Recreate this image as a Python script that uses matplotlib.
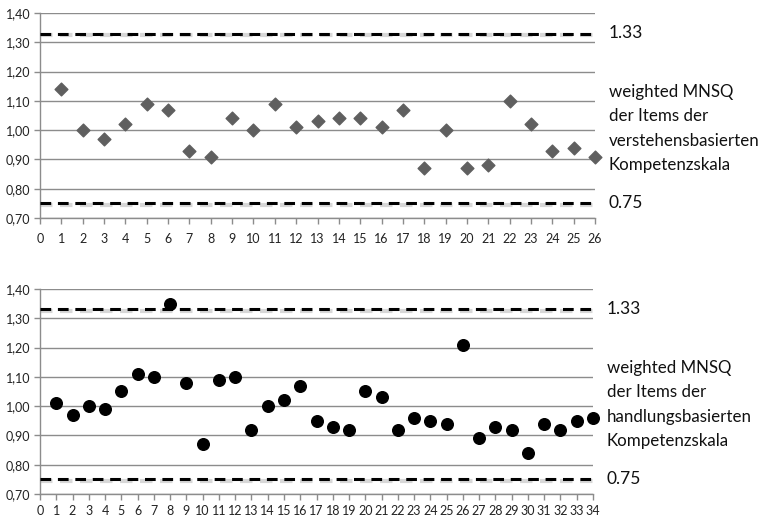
import matplotlib
matplotlib.use("Agg")
import matplotlib.pyplot as plt
import matplotlib.ticker as mticker

plt.rcParams['font.family'] = ['Lato', 'DejaVu Sans']

items_top = list(range(1, 27))
mnsq_top = [1.14, 1.00, 0.97, 1.02, 1.09, 1.07, 0.93, 0.91, 1.04, 1.00,
            1.09, 1.01, 1.03, 1.04, 1.04, 1.01, 1.07, 0.87, 1.00, 0.87,
            0.88, 1.10, 1.02, 0.93, 0.94, 0.91]

items_bot = list(range(1, 35))
mnsq_bot = [1.01, 0.97, 1.00, 0.99, 1.05, 1.11, 1.10, 1.35, 1.08, 0.87,
            1.09, 1.10, 0.92, 1.00, 1.02, 1.07, 0.95, 0.93, 0.92, 1.05,
            1.03, 0.92, 0.96, 0.95, 0.94, 1.21, 0.89, 0.93, 0.92, 0.84,
            0.94, 0.92, 0.95, 0.96]

upper_limit = 1.33
lower_limit = 0.75
upper_label = "1.33"
lower_label = "0.75"
label_top = "weighted MNSQ\nder Items der\nverstehensbasierten\nKompetenzskala"
label_bot = "weighted MNSQ\nder Items der\nhandlungsbasierten\nKompetenzskala"

fig = plt.figure(figsize=(7.65, 5.2), dpi=100)
ax1 = fig.add_axes([40/765, 1-218/520, 555/765, 205/520])
ax2 = fig.add_axes([40/765, 1-494/520, 553/765, 205/520])

def style(ax, n, pad):
    ax.set_xlim(0, n)
    ax.set_ylim(0.70, 1.40)
    ax.set_yticks([0.7 + 0.1*i for i in range(8)])
    ax.yaxis.set_major_formatter(mticker.FuncFormatter(lambda v, p: f"{v:.2f}".replace('.', ',')))
    ax.set_xticks(range(0, n + 1))
    ax.grid(axis='y', color='#8c8c8c', linewidth=1.0)
    ax.set_axisbelow(True)
    for s in ['top', 'right']:
        ax.spines[s].set_visible(False)
    for s in ['left', 'bottom']:
        ax.spines[s].set_color('#8c8c8c')
        ax.spines[s].set_linewidth(1.0)
    ax.tick_params(axis='both', colors='#8c8c8c', labelcolor='#222222',
                   labelsize=9, length=4, width=1.0)
    ax.tick_params(axis='x', pad=pad)
    ax.tick_params(axis='y', pad=3)

def limits(ax, n):
    for y in (upper_limit, lower_limit):
        ax.plot([0, n], [y - 0.005, y - 0.005], color='#b0b0b0', lw=3.0,
                dashes=(3, 1.8), alpha=0.5, zorder=2)
        ax.plot([0, n], [y, y], color='black', lw=2.2, dashes=(3.5, 2.2), zorder=3)

style(ax1, 26, 7)
style(ax2, 34, 4)
limits(ax1, 26)
limits(ax2, 34)

ax1.scatter(items_top, mnsq_top, marker='D', s=42, color='#5f5f5f', zorder=4, clip_on=False)
ax2.scatter(items_bot, mnsq_bot, marker='o', s=70, color='black', zorder=4, clip_on=False)

for ax, lab in ((ax1, label_top), (ax2, label_bot)):
    ax.text(1.025, (upper_limit - 0.7) / 0.7, upper_label, transform=ax.transAxes,
            fontsize=12.5, va='center', ha='left', color='#111111')
    ax.text(1.025, (lower_limit - 0.7) / 0.7, lower_label, transform=ax.transAxes,
            fontsize=12.5, va='center', ha='left', color='#111111')
    ax.text(1.025, (1.005 - 0.7) / 0.7, lab, transform=ax.transAxes,
            fontsize=12.2, va='center', ha='left', color='#111111', linespacing=1.65)

fig.savefig("out.png", dpi=100)
